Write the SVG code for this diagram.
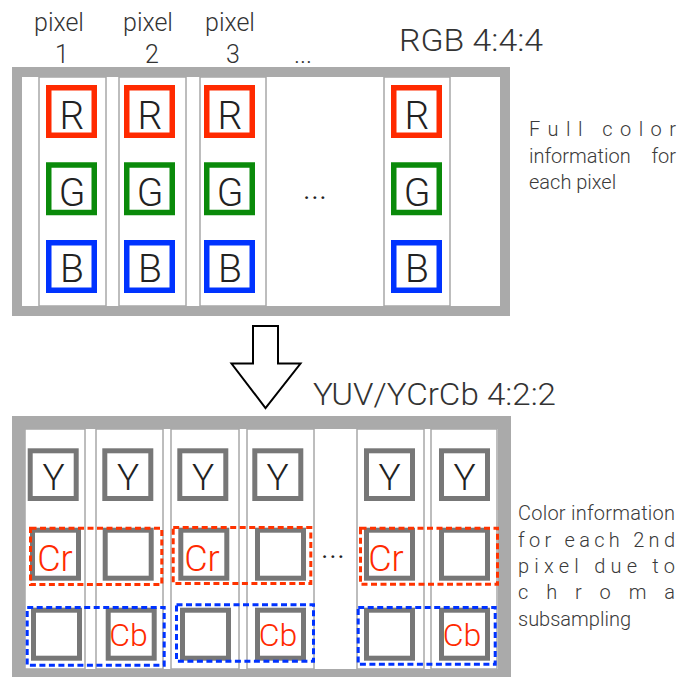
<svg xmlns="http://www.w3.org/2000/svg" width="693" height="677" viewBox="0 0 693 677">
  <style>
    text { font-family: Roboto, "Liberation Sans", sans-serif; font-weight: 300; fill: #333; }
    .frame { fill: none; stroke: #aaaaaa; }
    .col { fill: #fff; stroke: #a8a8a8; stroke-width: 1.5; }
    .box { fill: #fff; stroke-width: 5.5; }
    .r { stroke: #ff2a00; }
    .g { stroke: #0a8a0a; }
    .b { stroke: #0033ff; }
    .yb { fill: #fff; stroke: #777777; stroke-width: 5; }
    .big { font-size: 39px; text-anchor: middle; fill: #222; }
    .yt { font-size: 37px; text-anchor: middle; fill: #222; }
    .cr { font-size: 36px; text-anchor: middle; fill: #ff2a00; }
    .cb { font-size: 32px; text-anchor: middle; fill: #ff2a00; }
    .lbl { font-size: 25px; text-anchor: middle; }
    .title { font-size: 31px; }
    .note { font-size: 20px; fill: #3a3a3a; }
    .dots { font-size: 34px; text-anchor: middle; fill: #222; }
    .dr { fill: none; stroke: #ff3300; stroke-width: 3; stroke-dasharray: 6 3.5; }
    .db { fill: none; stroke: #0033ff; stroke-width: 3; stroke-dasharray: 6 3.5; }
  </style>

  <!-- top: RGB 4:4:4 -->
  <g id="rgb-labels">
    <text class="lbl" x="59" y="31">pixel</text>
    <text class="lbl" x="62" y="63">1</text>
    <text class="lbl" x="148" y="31">pixel</text>
    <text class="lbl" x="152" y="63">2</text>
    <text class="lbl" x="230" y="31">pixel</text>
    <text class="lbl" x="233" y="63">3</text>
    <text class="lbl" x="303" y="63">...</text>
    <text class="title" x="399" y="51" textLength="144" lengthAdjust="spacingAndGlyphs">RGB 4:4:4</text>
  </g>

  <g id="rgb-panel">
    <rect x="17" y="72" width="488" height="239" fill="#fff"/>
    <rect class="col" x="39" y="77" width="67" height="229"/>
    <rect class="col" x="119" y="77" width="67" height="229"/>
    <rect class="col" x="200" y="77" width="66" height="229"/>
    <rect class="col" x="384" y="77" width="66" height="229"/>
    <rect class="frame" x="17" y="72" width="488" height="239" stroke-width="10"/>
  </g>

  <g id="pixel1">
    <rect class="box r" x="48.75" y="87.75" width="45.5" height="47.5"/>
    <text class="big" x="72" y="128.5">R</text>
    <rect class="box g" x="48.75" y="165" width="45.5" height="47.5"/>
    <text class="big" x="72" y="205.5">G</text>
    <rect class="box b" x="48.75" y="242.75" width="45.5" height="47.5"/>
    <text class="big" x="72" y="282">B</text>
  </g>
  <g id="pixel2">
    <rect class="box r" x="126.75" y="87.75" width="45.5" height="47.5"/>
    <text class="big" x="150" y="128.5">R</text>
    <rect class="box g" x="126.75" y="165" width="45.5" height="47.5"/>
    <text class="big" x="150" y="205.5">G</text>
    <rect class="box b" x="126.75" y="242.75" width="45.5" height="47.5"/>
    <text class="big" x="150" y="282">B</text>
  </g>
  <g id="pixel3">
    <rect class="box r" x="206.75" y="87.75" width="45.5" height="47.5"/>
    <text class="big" x="230" y="128.5">R</text>
    <rect class="box g" x="206.75" y="165" width="45.5" height="47.5"/>
    <text class="big" x="230" y="205.5">G</text>
    <rect class="box b" x="206.75" y="242.75" width="45.5" height="47.5"/>
    <text class="big" x="230" y="282">B</text>
  </g>
  <g id="rgb-ellipsis">
    <text class="dots" x="315" y="199">...</text>
  </g>
  <g id="pixeln">
    <rect class="box r" x="393.75" y="87.75" width="45.5" height="47.5"/>
    <text class="big" x="417" y="128.5">R</text>
    <rect class="box g" x="393.75" y="165" width="45.5" height="47.5"/>
    <text class="big" x="417" y="205.5">G</text>
    <rect class="box b" x="393.75" y="242.75" width="45.5" height="47.5"/>
    <text class="big" x="417" y="282">B</text>
  </g>

  <g id="rgb-note">
    <text class="note" x="529" y="136" textLength="147" lengthAdjust="spacing">Full color</text>
    <text class="note" x="529" y="163">information</text>
    <text class="note" x="676" y="163" text-anchor="end">for</text>
    <text class="note" x="529" y="189">each pixel</text>
  </g>

  <!-- conversion arrow -->
  <g id="connectors">
    <polygon points="253,326 278,326 278,363.5 300.5,363.5 265.5,408 231.5,363.5 253,363.5" fill="#fff" stroke="#000" stroke-width="2" stroke-linejoin="miter"/>
  </g>

  <!-- bottom: YUV/YCrCb 4:2:2 -->
  <g id="yuv-title">
    <text class="title" x="313" y="405" textLength="243" lengthAdjust="spacingAndGlyphs">YUV/YCrCb 4:2:2</text>
  </g>

  <g id="yuv-panel">
    <rect x="18.5" y="422.5" width="486" height="253" fill="#fff"/>
    <rect class="col" x="25" y="429" width="60" height="240"/>
    <rect class="col" x="96" y="429" width="67" height="240"/>
    <rect class="col" x="171" y="429" width="68" height="240"/>
    <rect class="col" x="247" y="429" width="67" height="240"/>
    <rect class="col" x="357" y="429" width="67" height="240"/>
    <rect class="col" x="431" y="429" width="66" height="240"/>
    <rect class="frame" x="18.5" y="422.5" width="486" height="253" stroke-width="13"/>
  </g>

  <g id="yuv-pixel1">
    <rect class="yb" x="30.2" y="450.8" width="46" height="47.7"/>
    <text class="yt" x="53.5" y="489.5">Y</text>
    <rect class="yb" x="32.5" y="530.2" width="46" height="48"/>
    <text class="cr" x="55" y="571">Cr</text>
    <rect class="yb" x="33.5" y="610.2" width="46" height="48"/>
  </g>
  <g id="yuv-pixel2">
    <rect class="yb" x="104.8" y="450.8" width="46" height="47.7"/>
    <text class="yt" x="128" y="489.5">Y</text>
    <rect class="yb" x="105.2" y="530.2" width="46" height="48"/>
    <rect class="yb" x="108.2" y="610.2" width="46" height="48"/>
    <text class="cb" x="128.5" y="645.5">Cb</text>
  </g>
  <g id="yuv-pixel3">
    <rect class="yb" x="179.8" y="450.8" width="46" height="47.7"/>
    <text class="yt" x="203" y="489.5">Y</text>
    <rect class="yb" x="180.8" y="530.2" width="46" height="48"/>
    <text class="cr" x="202" y="571">Cr</text>
    <rect class="yb" x="182.5" y="610.2" width="46" height="48"/>
  </g>
  <g id="yuv-pixel4">
    <rect class="yb" x="254.8" y="450.8" width="46" height="47.7"/>
    <text class="yt" x="277.5" y="489.5">Y</text>
    <rect class="yb" x="257.5" y="530.2" width="46" height="48"/>
    <rect class="yb" x="257.5" y="610.2" width="46" height="48"/>
    <text class="cb" x="278" y="645.5">Cb</text>
  </g>
  <g id="yuv-ellipsis">
    <text class="dots" x="333" y="558">...</text>
  </g>
  <g id="yuv-pixeln1">
    <rect class="yb" x="366.5" y="450.8" width="46" height="47.7"/>
    <text class="yt" x="389.5" y="489.5">Y</text>
    <rect class="yb" x="366.5" y="530.2" width="46" height="48"/>
    <text class="cr" x="386" y="571">Cr</text>
    <rect class="yb" x="366.5" y="610.2" width="46" height="48"/>
  </g>
  <g id="yuv-pixeln2">
    <rect class="yb" x="441.5" y="450.8" width="46" height="47.7"/>
    <text class="yt" x="464.5" y="489.5">Y</text>
    <rect class="yb" x="441.5" y="530.2" width="46" height="48"/>
    <rect class="yb" x="441.5" y="610.2" width="46" height="48"/>
    <text class="cb" x="462" y="645.5">Cb</text>
  </g>

  <!-- chroma sample groups -->
  <g id="cr-groups">
    <rect class="dr" x="30.5" y="528.2" width="131.3" height="56.3"/>
    <rect class="dr" x="173.2" y="527.5" width="137.6" height="56"/>
    <rect class="dr" x="360.5" y="528.2" width="137" height="56"/>
  </g>
  <g id="cb-groups">
    <rect class="db" x="27.2" y="607.5" width="137" height="57.7"/>
    <rect class="db" x="176.5" y="604.8" width="137" height="56.4"/>
    <rect class="db" x="358.2" y="607.5" width="137" height="56.7"/>
  </g>

  <g id="yuv-note">
    <text class="note" x="518" y="520" textLength="157" lengthAdjust="spacing">Color information</text>
    <text class="note" x="518" y="547" textLength="157" lengthAdjust="spacing">for each 2nd</text>
    <text class="note" x="518" y="573" textLength="157" lengthAdjust="spacing">pixel due to</text>
    <text class="note" x="518" y="599" textLength="157" lengthAdjust="spacing">chroma</text>
    <text class="note" x="518" y="626">subsampling</text>
  </g>
</svg>
